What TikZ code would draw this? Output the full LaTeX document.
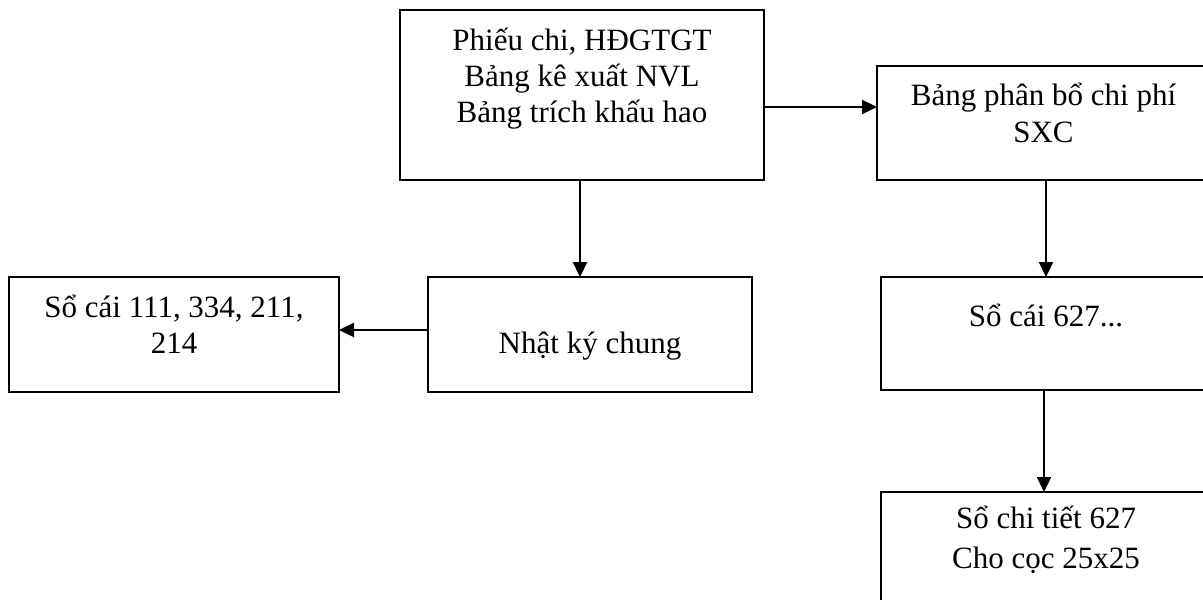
\documentclass[tikz,border=0pt]{standalone}
\usepackage{fontspec}
\setmainfont{Liberation Serif}
\usetikzlibrary{arrows.meta}
\begin{document}
\begin{tikzpicture}[x=1pt,y=-1pt,
  box/.style={draw, line width=1.8pt, inner sep=0pt, outer sep=0pt, anchor=north west},
  txt/.style={anchor=base, inner sep=0pt, font=\fontsize{31}{36}\selectfont},
  arr/.style={line width=2.3pt, -{Triangle[length=15pt,width=14pt]}}]
  \useasboundingbox (0,0) rectangle (1203,600);
  \fill[white] (0,0) rectangle (1203,600);
  \clip (0,0) rectangle (1203,600);

  % boxes
  \node[box, minimum width=364pt, minimum height=170pt] (a) at (400,10) {};
  \node[box, minimum width=333pt, minimum height=114pt] (b) at (877,66) {};
  \node[box, minimum width=330pt, minimum height=113pt] (c) at (881,277) {};
  \node[box, minimum width=330pt, minimum height=125pt] (d) at (881,492) {};
  \node[box, minimum width=324pt, minimum height=115pt] (e) at (428,277) {};
  \node[box, minimum width=330pt, minimum height=115pt] (f) at (9,277) {};

  % texts
  \node[txt] (a1) at ([yshift=-40pt]a.north) {Phiếu chi, HĐGTGT};
  \node[txt] (a2) at ([yshift=-76pt]a.north) {Bảng kê xuất NVL};
  \node[txt] (a3) at ([yshift=-112pt]a.north) {Bảng trích khấu hao};
  \node[txt] (b1) at ([yshift=-39pt]b.north) {Bảng phân bổ chi phí};
  \node[txt] (b2) at ([yshift=-76pt]b.north) {SXC};
  \node[txt] (c1) at ([yshift=-49pt]c.north) {Sổ cái 627...};
  \node[txt] (d1) at ([yshift=-36pt]d.north) {Sổ chi tiết 627};
  \node[txt] (d2) at ([yshift=-76pt]d.north) {Cho cọc 25x25};
  \node[txt] (e1) at ([yshift=-76pt]e.north) {Nhật ký chung};
  \node[txt] (f1) at ([yshift=-40pt]f.north) {Sổ cái 111, 334, 211,};
  \node[txt] (f2) at ([yshift=-76pt]f.north) {214};

  % connector guides
  \coordinate (yab) at (0,107);
  \coordinate (xae) at (580,0);
  \coordinate (yef) at (0,330);
  \coordinate (xbc) at (1046,0);
  \coordinate (xcd) at (1044,0);

  % connectors
  \draw[arr] (yab -| a.east) -- (yab -| b.west);
  \draw[arr] (xae |- a.south) -- (xae |- e.north);
  \draw[arr] (yef -| e.west) -- (yef -| f.east);
  \draw[arr] (xbc |- b.south) -- (xbc |- c.north);
  \draw[arr] (xcd |- c.south) -- (xcd |- d.north);
\end{tikzpicture}
\end{document}
